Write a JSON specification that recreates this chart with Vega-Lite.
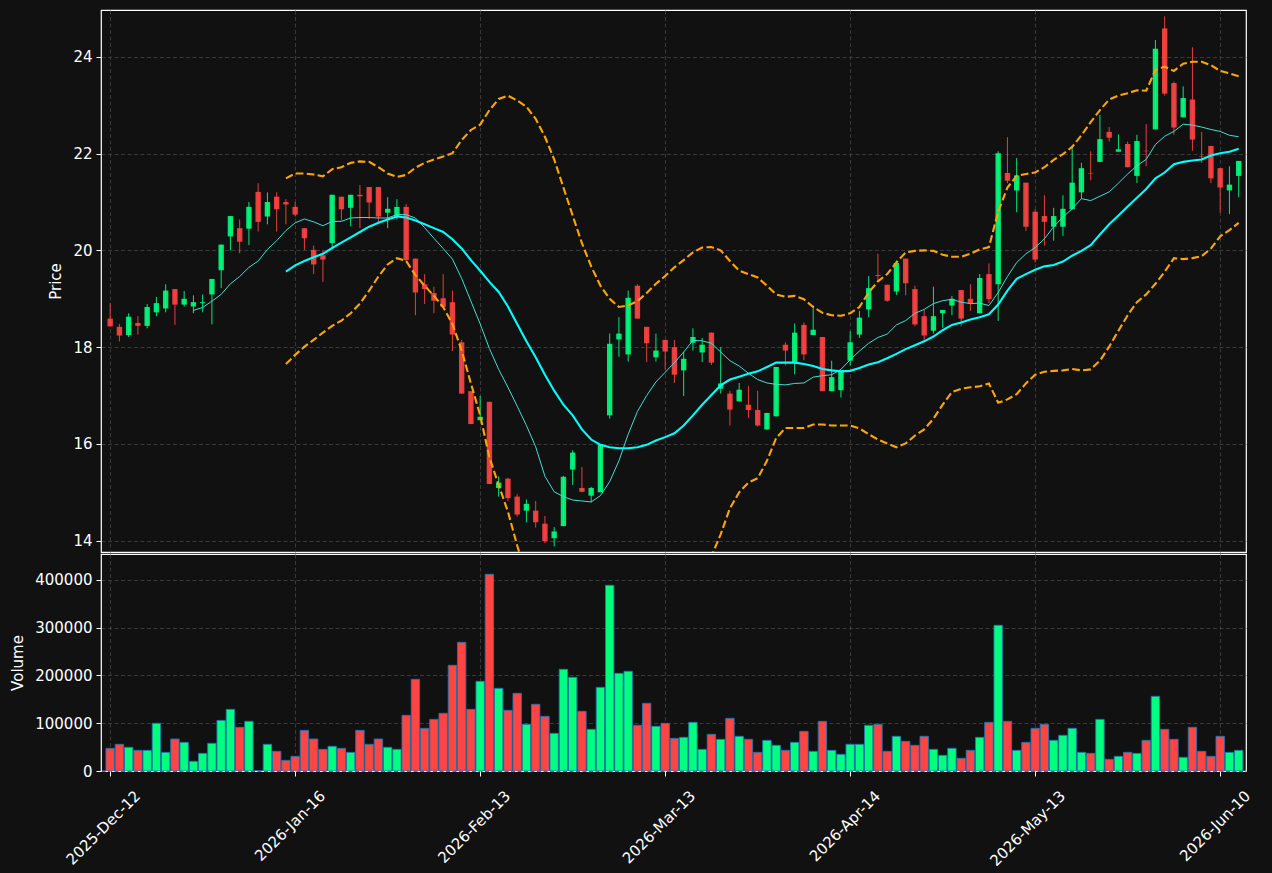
{
"$schema": "https://vega.github.io/schema/vega-lite/v6.json",
"background": "#111111",
"padding": {"left": 10, "top": 9, "right": 18, "bottom": 3},
"spacing": 0,
"config": {
 "font": "DejaVu Sans",
 "view": {"stroke": "#ffffff", "strokeWidth": 1.2, "fill": "#111111"},
 "axis": {"labelColor": "#ffffff", "titleColor": "#ffffff", "labelFont": "DejaVu Sans", "titleFont": "DejaVu Sans", "labelFontSize": 15, "titleFontSize": 15, "titleFontWeight": "normal", "tickColor": "#ffffff", "tickSize": 5, "tickWidth": 1, "labelPadding": 4, "titlePadding": 9, "gridColor": "#444444", "gridDash": [4, 2.5], "gridWidth": 0.8, "domain": false}
},
"datasets": {"d": [
{"i":0,"o":18.59,"h":18.91,"l":18.43,"c":18.43,"v":47400},
{"i":1,"o":18.42,"h":18.48,"l":18.12,"c":18.24,"v":55800},
{"i":2,"o":18.25,"h":18.70,"l":18.21,"c":18.63,"v":49500},
{"i":3,"o":18.50,"h":18.64,"l":18.26,"c":18.44,"v":43200},
{"i":4,"o":18.44,"h":18.89,"l":18.39,"c":18.83,"v":43200},
{"i":5,"o":18.72,"h":19.04,"l":18.64,"c":18.91,"v":99700},
{"i":6,"o":18.80,"h":19.30,"l":18.72,"c":19.17,"v":39000},
{"i":7,"o":19.20,"h":19.20,"l":18.46,"c":18.88,"v":66900},
{"i":8,"o":18.88,"h":19.16,"l":18.84,"c":19.00,"v":59900},
{"i":9,"o":18.84,"h":19.07,"l":18.70,"c":18.93,"v":20200,"m10":18.76},
{"i":10,"o":18.91,"h":19.09,"l":18.72,"c":18.93,"v":36900,"m10":18.82},
{"i":11,"o":19.09,"h":19.41,"l":18.47,"c":19.41,"v":57900,"m10":18.95},
{"i":12,"o":19.59,"h":20.12,"l":19.22,"c":20.12,"v":105900,"m10":19.09},
{"i":13,"o":20.29,"h":20.71,"l":20.00,"c":20.71,"v":128900,"m10":19.31},
{"i":14,"o":20.46,"h":20.64,"l":19.94,"c":20.18,"v":91300,"m10":19.46},
{"i":15,"o":20.45,"h":21.00,"l":20.11,"c":20.90,"v":103900,"m10":19.65},
{"i":16,"o":21.21,"h":21.39,"l":20.39,"c":20.59,"v":0,"m10":19.78},
{"i":17,"o":20.70,"h":21.20,"l":20.54,"c":21.00,"v":55800,"m10":20.02},
{"i":18,"o":21.11,"h":21.20,"l":20.39,"c":20.85,"v":41100,"m10":20.20},
{"i":19,"o":21.00,"h":21.06,"l":20.54,"c":20.95,"v":22300,"m10":20.41,"m20":19.56,"bu":21.49,"bl":17.65},
{"i":20,"o":20.90,"h":21.00,"l":20.70,"c":20.74,"v":30700,"m10":20.57,"m20":19.69,"bu":21.59,"bl":17.84},
{"i":21,"o":20.46,"h":20.46,"l":20.01,"c":20.25,"v":85000,"m10":20.65,"m20":19.78,"bu":21.59,"bl":18.01},
{"i":22,"o":20.01,"h":20.10,"l":19.51,"c":19.71,"v":66900,"m10":20.59,"m20":19.86,"bu":21.57,"bl":18.15},
{"i":23,"o":19.90,"h":20.00,"l":19.35,"c":19.81,"v":45300,"m10":20.51,"m20":19.93,"bu":21.53,"bl":18.30},
{"i":24,"o":20.15,"h":21.15,"l":20.04,"c":21.15,"v":51600,"m10":20.60,"m20":20.05,"bu":21.68,"bl":18.44},
{"i":25,"o":21.11,"h":21.11,"l":20.62,"c":20.85,"v":47400,"m10":20.60,"m20":20.16,"bu":21.72,"bl":18.55},
{"i":26,"o":20.88,"h":21.15,"l":20.50,"c":21.15,"v":39000,"m10":20.67,"m20":20.27,"bu":21.81,"bl":18.70},
{"i":27,"o":21.15,"h":21.35,"l":20.46,"c":21.12,"v":85000,"m10":20.68,"m20":20.38,"bu":21.84,"bl":18.90},
{"i":28,"o":21.31,"h":21.31,"l":20.65,"c":20.99,"v":55800,"m10":20.68,"m20":20.49,"bu":21.83,"bl":19.17},
{"i":29,"o":21.31,"h":21.31,"l":20.54,"c":20.70,"v":66900,"m10":20.67,"m20":20.57,"bu":21.72,"bl":19.46},
{"i":30,"o":20.78,"h":21.10,"l":20.46,"c":20.86,"v":49500,"m10":20.67,"m20":20.64,"bu":21.59,"bl":19.71},
{"i":31,"o":20.69,"h":21.06,"l":20.64,"c":20.90,"v":45300,"m10":20.74,"m20":20.70,"bu":21.52,"bl":19.84},
{"i":32,"o":20.90,"h":20.96,"l":19.76,"c":19.80,"v":116400,"m10":20.74,"m20":20.68,"bu":21.56,"bl":19.78},
{"i":33,"o":19.83,"h":19.83,"l":18.66,"c":19.13,"v":191700,"m10":20.67,"m20":20.62,"bu":21.71,"bl":19.49},
{"i":34,"o":19.30,"h":19.51,"l":18.89,"c":19.20,"v":89200,"m10":20.47,"m20":20.54,"bu":21.81,"bl":19.27},
{"i":35,"o":19.12,"h":19.25,"l":18.70,"c":18.96,"v":108000,"m10":20.25,"m20":20.46,"bu":21.88,"bl":19.06},
{"i":36,"o":19.01,"h":19.51,"l":18.83,"c":18.83,"v":120600,"m10":20.04,"m20":20.38,"bu":21.94,"bl":18.83},
{"i":37,"o":18.93,"h":19.17,"l":17.92,"c":18.26,"v":221000,"m10":19.82,"m20":20.23,"bu":22.01,"bl":18.48},
{"i":38,"o":18.10,"h":18.15,"l":17.04,"c":17.04,"v":269000,"m10":19.42,"m20":20.04,"bu":22.28,"bl":17.93},
{"i":39,"o":17.09,"h":17.09,"l":16.41,"c":16.41,"v":128900,"m10":18.95,"m20":19.80,"bu":22.49,"bl":17.25},
{"i":40,"o":16.49,"h":16.99,"l":16.49,"c":16.56,"v":187500,"m10":18.48,"m20":19.58,"bu":22.60,"bl":16.59},
{"i":41,"o":16.87,"h":16.87,"l":15.17,"c":15.17,"v":411200,"m10":17.97,"m20":19.35,"bu":22.90,"bl":15.72},
{"i":42,"o":15.09,"h":15.33,"l":14.91,"c":15.20,"v":172900,"m10":17.54,"m20":19.14,"bu":23.13,"bl":15.15},
{"i":43,"o":15.28,"h":15.30,"l":14.82,"c":14.88,"v":126900,"m10":17.17,"m20":18.84,"bu":23.20,"bl":14.60},
{"i":44,"o":14.91,"h":14.96,"l":14.50,"c":14.54,"v":162400,"m10":16.78,"m20":18.48,"bu":23.10,"bl":13.90},
{"i":45,"o":14.62,"h":14.85,"l":14.38,"c":14.76,"v":97600,"m10":16.38,"m20":18.12,"bu":22.97,"bl":13.27},
{"i":46,"o":14.62,"h":14.82,"l":14.27,"c":14.38,"v":139400,"m10":15.94,"m20":17.79,"bu":22.72,"bl":12.86},
{"i":47,"o":14.35,"h":14.51,"l":13.95,"c":13.99,"v":114300,"m10":15.33,"m20":17.43,"bu":22.35,"bl":12.51},
{"i":48,"o":14.05,"h":14.28,"l":13.88,"c":14.19,"v":78800,"m10":15.01,"m20":17.10,"bu":21.88,"bl":12.32},
{"i":49,"o":14.30,"h":15.34,"l":14.30,"c":15.32,"v":212600,"m10":14.91,"m20":16.81,"bu":21.30,"bl":12.32},
{"i":50,"o":15.47,"h":15.87,"l":15.15,"c":15.82,"v":195900,"m10":14.84,"m20":16.59,"bu":20.72,"bl":12.46},
{"i":51,"o":15.09,"h":15.52,"l":15.00,"c":15.01,"v":124800,"m10":14.82,"m20":16.30,"bu":20.15,"bl":12.45},
{"i":52,"o":14.93,"h":15.11,"l":14.79,"c":15.09,"v":87100,"m10":14.80,"m20":16.09,"bu":19.67,"bl":12.51},
{"i":53,"o":15.00,"h":15.99,"l":15.00,"c":15.99,"v":174900,"m10":14.93,"m20":15.98,"bu":19.27,"bl":12.69},
{"i":54,"o":16.59,"h":18.28,"l":16.52,"c":18.07,"v":388200,"m10":15.22,"m20":15.93,"bu":19.00,"bl":12.86},
{"i":55,"o":18.16,"h":18.62,"l":17.80,"c":18.28,"v":204200,"m10":15.65,"m20":15.91,"bu":18.83,"bl":12.99},
{"i":56,"o":17.85,"h":19.17,"l":17.70,"c":19.02,"v":208400,"m10":16.20,"m20":15.91,"bu":18.86,"bl":12.96},
{"i":57,"o":19.27,"h":19.30,"l":18.59,"c":18.59,"v":95500,"m10":16.67,"m20":15.93,"bu":18.95,"bl":12.91},
{"i":58,"o":18.42,"h":18.42,"l":17.69,"c":18.08,"v":141500,"m10":17.00,"m20":15.98,"bu":19.12,"bl":12.84},
{"i":59,"o":17.79,"h":18.28,"l":17.70,"c":17.93,"v":93400,"m10":17.28,"m20":16.07,"bu":19.31,"bl":12.83},
{"i":60,"o":18.15,"h":18.15,"l":17.54,"c":17.91,"v":99700,"m10":17.48,"m20":16.14,"bu":19.47,"bl":12.83},
{"i":61,"o":18.00,"h":18.15,"l":17.26,"c":17.43,"v":68300,"m10":17.68,"m20":16.22,"bu":19.65,"bl":12.79},
{"i":62,"o":17.52,"h":17.90,"l":16.99,"c":17.76,"v":70400,"m10":17.90,"m20":16.38,"bu":19.80,"bl":12.96},
{"i":63,"o":18.09,"h":18.39,"l":17.93,"c":18.21,"v":101800,"m10":18.14,"m20":16.59,"bu":19.96,"bl":13.10},
{"i":64,"o":17.89,"h":18.19,"l":17.69,"c":18.05,"v":45300,"m10":18.13,"m20":16.81,"bu":20.06,"bl":13.40},
{"i":65,"o":18.30,"h":18.30,"l":17.63,"c":17.68,"v":76700,"m10":18.08,"m20":17.01,"bu":20.07,"bl":13.68},
{"i":66,"o":17.14,"h":18.00,"l":17.04,"c":17.25,"v":66200,"m10":17.90,"m20":17.21,"bu":20.00,"bl":14.13},
{"i":67,"o":17.04,"h":17.10,"l":16.38,"c":16.71,"v":110100,"m10":17.72,"m20":17.33,"bu":19.78,"bl":14.67},
{"i":68,"o":16.88,"h":17.26,"l":16.88,"c":17.12,"v":72500,"m10":17.61,"m20":17.39,"bu":19.58,"bl":15.00},
{"i":69,"o":16.81,"h":17.20,"l":16.54,"c":16.70,"v":66200,"m10":17.46,"m20":17.45,"bu":19.51,"bl":15.20},
{"i":70,"o":16.70,"h":17.10,"l":16.36,"c":16.38,"v":39000,"m10":17.33,"m20":17.50,"bu":19.44,"bl":15.29},
{"i":71,"o":16.30,"h":16.64,"l":16.29,"c":16.64,"v":64100,"m10":17.26,"m20":17.59,"bu":19.27,"bl":15.65},
{"i":72,"o":16.57,"h":17.59,"l":16.57,"c":17.59,"v":53700,"m10":17.23,"m20":17.68,"bu":19.09,"bl":16.12},
{"i":73,"o":18.05,"h":18.10,"l":17.62,"c":17.93,"v":43200,"m10":17.22,"m20":17.68,"bu":19.04,"bl":16.33},
{"i":74,"o":17.68,"h":18.49,"l":17.44,"c":18.30,"v":59900,"m10":17.25,"m20":17.68,"bu":19.06,"bl":16.33},
{"i":75,"o":18.46,"h":18.51,"l":17.73,"c":17.85,"v":82900,"m10":17.26,"m20":17.65,"bu":18.99,"bl":16.33},
{"i":76,"o":18.25,"h":18.86,"l":18.25,"c":18.36,"v":41100,"m10":17.38,"m20":17.61,"bu":18.83,"bl":16.40},
{"i":77,"o":18.21,"h":18.21,"l":17.09,"c":17.09,"v":103900,"m10":17.41,"m20":17.55,"bu":18.71,"bl":16.40},
{"i":78,"o":17.09,"h":17.72,"l":17.09,"c":17.38,"v":43200,"m10":17.43,"m20":17.52,"bu":18.66,"bl":16.38},
{"i":79,"o":17.11,"h":17.52,"l":16.96,"c":17.52,"v":34900,"m10":17.54,"m20":17.50,"bu":18.65,"bl":16.38},
{"i":80,"o":17.72,"h":18.33,"l":17.62,"c":18.10,"v":55800,"m10":17.74,"m20":17.51,"bu":18.70,"bl":16.38},
{"i":81,"o":18.26,"h":18.75,"l":18.19,"c":18.61,"v":55800,"m10":17.92,"m20":17.57,"bu":18.83,"bl":16.32},
{"i":82,"o":18.78,"h":19.47,"l":18.62,"c":19.22,"v":95500,"m10":18.08,"m20":17.64,"bu":19.13,"bl":16.20},
{"i":83,"o":19.49,"h":19.93,"l":19.38,"c":19.47,"v":97600,"m10":18.20,"m20":17.69,"bu":19.36,"bl":16.09},
{"i":84,"o":19.29,"h":19.29,"l":18.94,"c":18.96,"v":41100,"m10":18.27,"m20":17.77,"bu":19.51,"bl":16.01},
{"i":85,"o":19.15,"h":19.79,"l":19.08,"c":19.74,"v":72500,"m10":18.46,"m20":17.86,"bu":19.75,"bl":15.93},
{"i":86,"o":19.83,"h":19.83,"l":19.07,"c":19.32,"v":62000,"m10":18.55,"m20":17.96,"bu":19.96,"bl":16.01},
{"i":87,"o":19.20,"h":19.27,"l":18.43,"c":18.47,"v":53700,"m10":18.70,"m20":18.04,"bu":19.99,"bl":16.17},
{"i":88,"o":18.64,"h":18.77,"l":18.13,"c":18.24,"v":72500,"m10":18.78,"m20":18.12,"bu":20.00,"bl":16.30},
{"i":89,"o":18.34,"h":19.25,"l":18.28,"c":18.64,"v":45300,"m10":18.90,"m20":18.22,"bu":19.99,"bl":16.52},
{"i":90,"o":18.70,"h":18.77,"l":18.40,"c":18.77,"v":32800,"m10":18.96,"m20":18.35,"bu":19.91,"bl":16.81},
{"i":91,"o":18.86,"h":19.06,"l":18.66,"c":19.00,"v":47400,"m10":18.99,"m20":18.46,"bu":19.87,"bl":17.07},
{"i":92,"o":19.18,"h":19.18,"l":18.43,"c":18.59,"v":26500,"m10":18.93,"m20":18.51,"bu":19.87,"bl":17.14},
{"i":93,"o":19.00,"h":19.30,"l":18.75,"c":18.91,"v":43200,"m10":18.90,"m20":18.57,"bu":19.93,"bl":17.17},
{"i":94,"o":18.70,"h":19.51,"l":18.70,"c":19.43,"v":70400,"m10":18.91,"m20":18.62,"bu":20.02,"bl":17.19},
{"i":95,"o":19.51,"h":19.73,"l":18.91,"c":18.99,"v":101800,"m10":18.86,"m20":18.68,"bu":20.07,"bl":17.25},
{"i":96,"o":19.30,"h":22.05,"l":18.54,"c":22.01,"v":304600,"m10":19.13,"m20":18.88,"bu":20.80,"bl":16.85},
{"i":97,"o":21.60,"h":22.34,"l":21.39,"c":21.44,"v":103900,"m10":19.46,"m20":19.17,"bu":21.30,"bl":16.92},
{"i":98,"o":21.24,"h":21.91,"l":20.79,"c":21.55,"v":43200,"m10":19.75,"m20":19.41,"bu":21.54,"bl":17.03},
{"i":99,"o":21.40,"h":21.40,"l":20.40,"c":20.49,"v":59900,"m10":19.93,"m20":19.51,"bu":21.58,"bl":17.25},
{"i":100,"o":20.80,"h":20.85,"l":19.75,"c":19.81,"v":89200,"m10":20.06,"m20":19.60,"bu":21.61,"bl":17.43},
{"i":101,"o":20.71,"h":21.14,"l":20.10,"c":20.59,"v":97600,"m10":20.24,"m20":19.67,"bu":21.72,"bl":17.49},
{"i":102,"o":20.49,"h":20.88,"l":20.20,"c":20.71,"v":64100,"m10":20.49,"m20":19.70,"bu":21.87,"bl":17.51},
{"i":103,"o":20.49,"h":21.14,"l":20.30,"c":20.86,"v":74600,"m10":20.69,"m20":19.77,"bu":21.99,"bl":17.52},
{"i":104,"o":20.85,"h":22.17,"l":20.85,"c":21.40,"v":89200,"m10":20.86,"m20":19.89,"bu":22.14,"bl":17.55},
{"i":105,"o":21.20,"h":21.81,"l":21.07,"c":21.70,"v":39000,"m10":21.07,"m20":19.99,"bu":22.38,"bl":17.52},
{"i":106,"o":21.59,"h":22.05,"l":21.45,"c":21.58,"v":36900,"m10":21.03,"m20":20.11,"bu":22.65,"bl":17.54},
{"i":107,"o":21.83,"h":22.80,"l":21.83,"c":22.30,"v":108000,"m10":21.12,"m20":20.33,"bu":22.90,"bl":17.72},
{"i":108,"o":22.45,"h":22.55,"l":22.25,"c":22.33,"v":24400,"m10":21.21,"m20":20.54,"bu":23.12,"bl":18.01},
{"i":109,"o":22.04,"h":22.40,"l":22.04,"c":22.09,"v":30700,"m10":21.39,"m20":20.72,"bu":23.20,"bl":18.34},
{"i":110,"o":22.20,"h":22.25,"l":21.72,"c":21.72,"v":39000,"m10":21.58,"m20":20.91,"bu":23.25,"bl":18.66},
{"i":111,"o":21.54,"h":22.39,"l":21.39,"c":22.26,"v":36900,"m10":21.75,"m20":21.09,"bu":23.31,"bl":18.93},
{"i":112,"o":22.06,"h":22.61,"l":21.74,"c":22.05,"v":64100,"m10":21.88,"m20":21.27,"bu":23.30,"bl":19.09},
{"i":113,"o":22.50,"h":24.35,"l":22.50,"c":24.17,"v":156100,"m10":22.19,"m20":21.49,"bu":23.73,"bl":19.31},
{"i":114,"o":24.59,"h":24.84,"l":23.20,"c":23.24,"v":87100,"m10":22.36,"m20":21.61,"bu":23.80,"bl":19.56},
{"i":115,"o":23.46,"h":23.49,"l":22.39,"c":22.54,"v":66200,"m10":22.46,"m20":21.78,"bu":23.71,"bl":19.84},
{"i":116,"o":22.75,"h":23.39,"l":22.75,"c":23.15,"v":28600,"m10":22.61,"m20":21.83,"bu":23.86,"bl":19.82},
{"i":117,"o":23.12,"h":24.20,"l":22.06,"c":22.29,"v":91300,"m10":22.59,"m20":21.86,"bu":23.90,"bl":19.84},
{"i":118,"o":21.95,"h":22.45,"l":21.81,"c":21.94,"v":41100,"m10":22.55,"m20":21.88,"bu":23.90,"bl":19.88},
{"i":119,"o":22.16,"h":22.16,"l":21.39,"c":21.49,"v":30700,"m10":22.50,"m20":21.96,"bu":23.83,"bl":20.04},
{"i":120,"o":21.70,"h":21.70,"l":20.78,"c":21.30,"v":72500,"m10":22.46,"m20":22.01,"bu":23.71,"bl":20.29},
{"i":121,"o":21.24,"h":21.74,"l":20.75,"c":21.36,"v":39000,"m10":22.38,"m20":22.04,"bu":23.66,"bl":20.42},
{"i":122,"o":21.54,"h":21.85,"l":21.10,"c":21.85,"v":43200,"m10":22.35,"m20":22.10,"bu":23.60,"bl":20.57}
]},
"data": {"name": "d"},
"vconcat": [
 {
  "width": 1145, "height": 542,
  "encoding": {
   "x": {"field": "i", "type": "quantitative", "scale": {"domain": [-0.45, 122.25], "nice": false, "zero": false}, "axis": {"values": [0, 20, 40, 60, 80, 100, 120], "labels": false, "ticks": false, "title": null, "grid": true}}
  },
  "layer": [
   {"mark": {"type": "rule", "strokeWidth": 1, "opacity": 0.9},
    "encoding": {
     "y": {"field": "l", "type": "quantitative", "scale": {"domain": [13.765, 24.97], "nice": false, "zero": false}, "axis": {"title": "Price", "values": [14, 16, 18, 20, 22, 24], "format": "d", "grid": true}},
     "y2": {"field": "h"},
     "color": {"condition": {"test": "datum.c >= datum.o", "value": "#00ff7f"}, "value": "#ff4444"}
    }},
   {"mark": {"type": "bar", "width": 5.4, "opacity": 0.9},
    "encoding": {
     "y": {"field": "o", "type": "quantitative"},
     "y2": {"field": "c"},
     "color": {"condition": {"test": "datum.c >= datum.o", "value": "#00ff7f"}, "value": "#ff4444"}
    }},
   {"mark": {"type": "line", "color": "#40e0d0", "strokeWidth": 1, "clip": true},
    "encoding": {"y": {"field": "m10", "type": "quantitative"}}},
   {"mark": {"type": "line", "color": "#00ffff", "strokeWidth": 2.1, "clip": true},
    "encoding": {"y": {"field": "m20", "type": "quantitative"}}},
   {"mark": {"type": "line", "color": "#ffa500", "strokeWidth": 2.1, "strokeDash": [7.7, 3.3], "clip": true},
    "encoding": {"y": {"field": "bu", "type": "quantitative"}}},
   {"mark": {"type": "line", "color": "#ffa500", "strokeWidth": 2.1, "strokeDash": [7.7, 3.3], "clip": true},
    "encoding": {"y": {"field": "bl", "type": "quantitative"}}}
  ]
 },
 {
  "width": 1145, "height": 217,
  "mark": {"type": "bar", "width": 8.4, "stroke": "#1f77b4", "strokeWidth": 0.9, "clip": true},
  "encoding": {
   "x": {"field": "i", "type": "quantitative", "scale": {"domain": [-0.45, 122.25], "nice": false, "zero": false},
     "axis": {"values": [0, 20, 40, 60, 80, 100, 120], "labelExpr": "['2025-Dec-12','2026-Jan-16','2026-Feb-13','2026-Mar-13','2026-Apr-14','2026-May-13','2026-Jun-10'][round(datum.value/20)]", "labelAngle": -45, "labelAlign": "right", "labelBaseline": "middle", "labelOffset": 27, "labelPadding": 17, "labelOverlap": false, "labelFlush": false, "labelBound": false, "title": null, "grid": true}},
   "y": {"field": "v", "type": "quantitative", "scale": {"domain": [0, 453700], "nice": false, "zero": true}, "axis": {"title": "Volume", "values": [0, 100000, 200000, 300000, 400000], "format": "d", "grid": true}},
   "color": {"condition": {"test": "datum.c >= datum.o", "value": "#00ff7f"}, "value": "#ff4444"}
  }
 }
]
}
